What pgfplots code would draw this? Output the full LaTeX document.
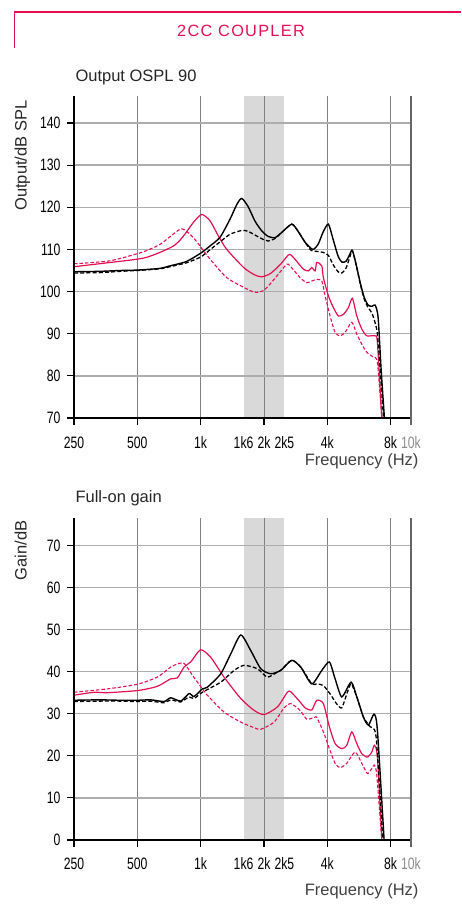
\documentclass[border=0pt]{standalone}
\usepackage{pgfplots}
\pgfplotsset{compat=1.18}
\usepackage{graphicx}
\usepackage{fontspec}
\setmainfont{Liberation Sans}
\newfontfamily\hdr[LetterSpace=8]{Liberation Sans}
\definecolor{crim}{RGB}{226,16,80}
\definecolor{band}{RGB}{217,217,217}
\newcommand{\nx}[1]{\scalebox{0.74}[1]{#1}}

\pgfplotsset{
  curveBS/.style={black, line width=1.4pt, smooth, tension=0.4},
  curveBD/.style={black, line width=1.3pt, dash pattern=on 4pt off 2.2pt, smooth, tension=0.4},
  curveRS/.style={crim, line width=1.2pt, smooth, tension=0.4},
  curveRD/.style={crim, line width=1.1pt, dash pattern=on 3.5pt off 2pt, smooth, tension=0.4},
}

\begin{document}
\begin{tikzpicture}[x=1pt,y=1pt]
\draw[crim, line width=1.3pt] (14.5,-47.5) -- (14.5,-12) -- (461,-12);
\node[anchor=base, text=crim, font=\hdr\fontsize{16.3}{18}\selectfont] at (241,-36.7) {2CC COUPLER};

% ---- Output OSPL 90
\node[anchor=base west, text=black!85, font=\fontsize{16.5}{19}\selectfont] at (72,-81.5) {Output OSPL 90};
\node[rotate=90, anchor=base east, text=black!85, font=\fontsize{16.5}{19}\selectfont] at (26.7,-97) {Output/dB SPL};
\begin{axis}[at={(74pt,-418pt)}, anchor=south west,
    scale only axis, width=337pt, height=322pt,
    xmode=log, xmin=250, xmax=10000,
    axis line style={draw=none},
    set layers, clip mode=individual,
    xtick={250,500,1000,2000,4000,8000,10000},
    xticklabels={\nx{250},\nx{500},\nx{1k},\nx{2k},\nx{4k},\nx{8k},\textcolor{black!45}{\nx{10k}}},
    minor xtick={},
    extra x ticks={1600,2500},
    extra x tick labels={\nx{1k6},\nx{2k5}},
    extra x tick style={grid=none, major tick style={draw=none}},
    xtick pos=bottom, ytick pos=left, tick align=outside,
    major tick length=7pt,
    tick style={line width=1.1pt, black},
    xmajorgrids, ymajorgrids,
    x grid style={line width=0.9pt, black!50},
    y grid style={line width=1.3pt, black!32},
    tick label style={font=\fontsize{16.5}{16.5}\selectfont, text=black},
    xticklabel style={yshift=-8pt},
    yticklabel style={xshift=-3pt},
    ymin=70, ymax=146.4, ytick={70,80,...,140},
    yticklabels={\nx{70},\nx{80},\nx{90},\nx{100},\nx{110},\nx{120},\nx{130},\nx{140}}]
\addplot[draw=none, fill=band, on layer=axis background] coordinates {(1600,146.4)(2500,146.4)} \closedcycle;
% crimson dashed
\addplot[curveRD] coordinates {(250,106.6)(371,107.3)(532,109.4)(641,111.2)(715,113)(813,114.9)(923,112.8)(1108,107.7)(1331,103.3)(1602,101)(1781,99.9)(1849,99.8)(2000,100.3)(2200,102.5)(2400,104.8)(2568,106.5)(2662,106.1)(2970,103.3)(3196,102.1)(3375,102.5)(3566,102.9)(3767,102.5)(3905,99)(4125,94.2)(4357,90.3)(4602,89.5)(4860,90.3)(5231,92.7)(5525,89.9)(5837,87.5)(6165,85.6)(6627,84.4)(6922,83.2)(7265,70)};
% crimson solid
\addplot[curveRS] coordinates {(250,105.9)(371,106.9)(532,107.9)(641,109.3)(742,110.8)(798,112.2)(853,114)(923,116.4)(1012,118.3)(1108,116.8)(1214,113.2)(1331,110)(1602,105.7)(1800,104)(1952,103.5)(2150,104.3)(2400,106.5)(2613,108.7)(2700,108.6)(2850,107.3)(3079,105.3)(3253,104.9)(3375,105.7)(3500,104.9)(3566,106.9)(3767,106.1)(3833,103.3)(4048,99)(4276,96.2)(4517,94.2)(4771,94.6)(5040,96.2)(5265,98.4)(5525,94.2)(5837,91.1)(6165,89.5)(6750,89.5)(6922,87.9)(7265,70)};
% black dashed
\addplot[curveBD] coordinates {(250,104.4)(332,104.5)(414,104.8)(500,105)(641,105.4)(715,105.9)(853,106.8)(1000,108.2)(1100,109.8)(1237,111.8)(1380,113.6)(1568,114.5)(1680,114.3)(1814,113.4)(1959,112.5)(2092,112)(2259,112.6)(2438,114.1)(2712,116)(2906,114.3)(3137,111.7)(3350,109.8)(3617,109.5)(3820,109.3)(4048,108.6)(4262,106.4)(4502,104.7)(4688,104.4)(4915,105.6)(5135,108.4)(5265,109.7)(5483,106.3)(5729,102)(5985,98.3)(6252,96.2)(6533,94.8)(6900,90.5)(7150,81)(7400,70)};
% black solid
\addplot[curveBS] coordinates {(250,104.7)(332,104.8)(414,105)(500,105.1)(641,105.5)(715,106.1)(853,107.1)(1000,109.1)(1100,110.7)(1237,112.9)(1380,117.2)(1487,120.7)(1568,122.1)(1680,120.2)(1814,116.7)(1959,114.3)(2092,113.1)(2259,112.8)(2438,114.1)(2712,116)(2906,114.3)(3137,111.7)(3412,110)(3617,111.2)(3820,114.1)(4048,116)(4262,112.4)(4502,108.4)(4688,107)(4915,107.2)(5135,109)(5265,109.8)(5483,106.5)(5729,102.2)(5985,98.7)(6252,96.8)(6533,96.5)(6750,96.8)(6977,93.9)(7209,81.6)(7475,70)};
\draw[black, line width=1.4pt] (rel axis cs:0,1) -- (rel axis cs:0,0) -- (rel axis cs:1,0);
\draw[black!60, line width=1.6pt] (rel axis cs:1,1) -- (rel axis cs:1,0) -- ([yshift=-7pt]rel axis cs:1,0);
\end{axis}
\node[anchor=base east, text=black!75, font=\fontsize{16.5}{19}\selectfont] at (422,-465.3) {Frequency (Hz)};

% ---- Full-on gain
\node[anchor=base west, text=black!85, font=\fontsize{16.5}{19}\selectfont] at (72,-502.5) {Full-on gain};
\node[rotate=90, anchor=base east, text=black!85, font=\fontsize{16.5}{19}\selectfont] at (26.7,-517) {Gain/dB};
\begin{axis}[at={(74pt,-840pt)}, anchor=south west,
    scale only axis, width=337pt, height=322pt,
    xmode=log, xmin=250, xmax=10000,
    axis line style={draw=none},
    set layers, clip mode=individual,
    xtick={250,500,1000,2000,4000,8000,10000},
    xticklabels={\nx{250},\nx{500},\nx{1k},\nx{2k},\nx{4k},\nx{8k},\textcolor{black!45}{\nx{10k}}},
    minor xtick={},
    extra x ticks={1600,2500},
    extra x tick labels={\nx{1k6},\nx{2k5}},
    extra x tick style={grid=none, major tick style={draw=none}},
    xtick pos=bottom, ytick pos=left, tick align=outside,
    major tick length=7pt,
    tick style={line width=1.1pt, black},
    xmajorgrids, ymajorgrids,
    x grid style={line width=0.9pt, black!50},
    y grid style={line width=1.3pt, black!32},
    tick label style={font=\fontsize{16.5}{16.5}\selectfont, text=black},
    xticklabel style={yshift=-7pt},
    yticklabel style={xshift=-3pt},
    ymin=0, ymax=76.5, ytick={0,10,...,70},
    yticklabels={\nx{0},\nx{10},\nx{20},\nx{30},\nx{40},\nx{50},\nx{60},\nx{70}}]
\addplot[draw=none, fill=band, on layer=axis background] coordinates {(1600,76.5)(2500,76.5)} \closedcycle;
% crimson dashed
\addplot[curveRD] coordinates {(250,35.1)(360,35.9)(500,37)(622,38.7)(721,41.1)(775,41.8)(828,42.1)(864,41)(930,38.6)(1000,36.5)(1076,34.4)(1292,30.4)(1552,28)(1795,26.7)(1931,26.3)(2234,28)(2492,31.4)(2683,32.4)(2970,30.8)(3196,28.7)(3500,29.2)(3566,29.1)(3833,25.7)(4093,21.7)(4357,18.2)(4602,17.2)(4952,18.2)(5423,20.9)(5837,18.2)(6206,15.8)(6512,17)(6700,17.8)(6877,15.4)(7265,0)};
% crimson solid
\addplot[curveRS] coordinates {(250,34.4)(311,35.1)(360,35)(500,35.5)(622,36.5)(721,38.3)(775,38.5)(834,41.1)(897,42.3)(1000,45.2)(1117,43.4)(1292,38.7)(1552,33.6)(1795,30.8)(2002,29.8)(2316,31.6)(2584,35.1)(2683,35.2)(2970,32.8)(3137,31.4)(3375,30.9)(3566,33.2)(3833,32.4)(4093,26.9)(4357,22.9)(4688,21.7)(4952,22.5)(5231,25.7)(5525,22.9)(5837,20.5)(6206,19.7)(6512,20.9)(6700,22.5)(6922,19.7)(7265,0)};
% black dashed
\addplot[curveBD] coordinates {(250,32.9)(332,33)(414,33)(500,32.9)(579,33)(670,32.6)(721,33.3)(804,32.8)(881,34)(930,33.6)(1019,35.1)(1246,37.5)(1442,40.3)(1608,41.5)(1861,40.7)(2076,38.7)(2316,39.9)(2404,40.3)(2712,42.7)(3000,41)(3375,37.1)(3566,37.1)(3833,36.7)(4125,34.7)(4438,32.3)(4688,31.4)(4952,34.7)(5191,37.1)(5525,34)(5940,29.2)(6391,26.9)(6825,24.5)(7345,0)};
% black solid
\addplot[curveBS] coordinates {(250,33.2)(332,33.3)(414,33.2)(500,33.2)(579,33.3)(670,32.9)(721,33.8)(804,33)(881,34.8)(930,34.1)(1019,35.9)(1076,36.3)(1246,39.5)(1390,44.2)(1552,48.7)(1731,45)(1931,40.7)(2154,39.5)(2404,40.3)(2712,42.7)(3000,41)(3375,37.1)(3767,40.3)(4093,42.3)(4357,38.3)(4688,34)(5191,37.5)(5525,34)(5940,29.2)(6274,27.3)(6677,29.9)(6922,26.1)(7449,0)};
\draw[black, line width=1.4pt] (rel axis cs:0,1) -- (rel axis cs:0,0) -- (rel axis cs:1,0);
\draw[black!60, line width=1.6pt] (rel axis cs:1,1) -- (rel axis cs:1,0) -- ([yshift=-7pt]rel axis cs:1,0);
\end{axis}
\node[anchor=base east, text=black!75, font=\fontsize{16.5}{19}\selectfont] at (422,-895) {Frequency (Hz)};
\pgfresetboundingbox
\useasboundingbox (0,0) rectangle (461,-911);
\end{tikzpicture}
\end{document}
